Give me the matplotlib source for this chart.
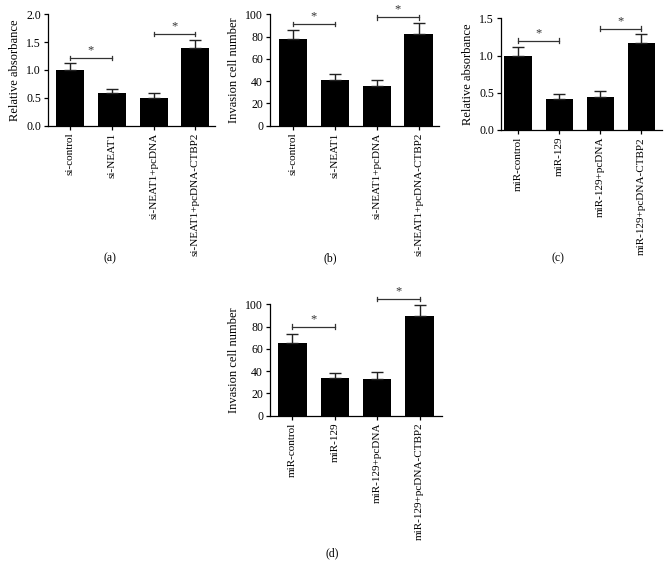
import matplotlib
matplotlib.use("Agg")
import matplotlib.pyplot as plt

plt.rcParams['font.family'] = ['Liberation Serif', 'DejaVu Serif']

# data
labels_si = ['si-control', 'si-NEAT1', 'si-NEAT1+pcDNA', 'si-NEAT1+pcDNA-CTBP2']
labels_mir = ['miR-control', 'miR-129', 'miR-129+pcDNA', 'miR-129+pcDNA-CTBP2']

abs_si = [1.00, 0.58, 0.50, 1.39]
abs_si_err = [0.12, 0.08, 0.08, 0.15]
inv_si = [77.5, 41, 36, 82]
inv_si_err = [8.5, 5, 5, 10]
abs_mir = [1.00, 0.41, 0.44, 1.165]
abs_mir_err = [0.12, 0.07, 0.09, 0.125]
inv_mir = [65, 33.5, 32.5, 89.5]
inv_mir_err = [8.5, 5, 6.5, 10]

# significance brackets: (bar i, bar j, height)
sig_a = [(0, 1, 1.22), (2, 3, 1.65)]
sig_b = [(0, 1, 91.3), (2, 3, 97.3)]
sig_c = [(0, 1, 1.2), (2, 3, 1.36)]
sig_d = [(0, 1, 80), (2, 3, 104.7)]

W, H = 669, 575
fig = plt.figure(figsize=(W / 100, H / 100), dpi=100)


def add_ax(left, right, top, bottom):
    return fig.add_axes([left / W, 1 - bottom / H, (right - left) / W, (bottom - top) / H])


def panel(ax, labels, vals, errs, sigs, ylim, yticks, ylabel, xlim, tickfmt):
    x = range(len(vals))
    ax.bar(x, vals, width=0.67, color='black',
           yerr=[[0] * len(errs), errs], capsize=4.5,
           error_kw=dict(ecolor='#222222', elinewidth=1.0, capthick=1.0))
    ax.set_xlim(*xlim)
    ax.set_ylim(*ylim)
    ax.set_yticks(yticks)
    ax.set_yticklabels([tickfmt.format(t) for t in yticks], fontsize=8.5)
    ax.set_xticks(list(x))
    ax.set_xticklabels(labels, rotation=90, fontsize=8)
    ax.set_ylabel(ylabel, fontsize=9, labelpad=4)
    for s in ['top', 'right']:
        ax.spines[s].set_visible(False)
    for s in ['left', 'bottom']:
        ax.spines[s].set_linewidth(0.9)
    ax.tick_params(length=3, width=0.9, pad=2)
    span = ylim[1] - ylim[0]
    d = span * 0.02
    for i, j, h in sigs:
        ax.plot([i, j], [h, h], color='#333333', lw=0.9, clip_on=False)
        ax.plot([i, i], [h - d, h + d], color='#333333', lw=0.9, clip_on=False)
        ax.plot([j, j], [h - d, h + d], color='#333333', lw=0.9, clip_on=False)
        ax.text((i + j) / 2, h + span * 0.015, '*', ha='center', va='bottom',
                fontsize=9, color='#333333', clip_on=False)


ax_a = add_ax(48, 215, 14.3, 125.7)
panel(ax_a, labels_si, abs_si, abs_si_err, sig_a, (0, 2.0), [0, 0.5, 1.0, 1.5, 2.0],
      'Relative absorbance', (-0.53, 3.47), '{:.1f}')

ax_b = add_ax(270, 439, 14.3, 125.7)
panel(ax_b, labels_si, inv_si, inv_si_err, sig_b, (0, 100), [0, 20, 40, 60, 80, 100],
      'Invasion cell number', (-0.55, 3.49), '{:.0f}')

ax_c = add_ax(501, 662, 18.3, 130)
panel(ax_c, labels_mir, abs_mir, abs_mir_err, sig_c, (0, 1.5), [0, 0.5, 1.0, 1.5],
      'Relative absorbance', (-0.42, 3.5), '{:.1f}')

ax_d = add_ax(270, 442, 304.3, 415.7)
panel(ax_d, labels_mir, inv_mir, inv_mir_err, sig_d, (0, 100), [0, 20, 40, 60, 80, 100],
      'Invasion cell number', (-0.53, 3.53), '{:.0f}')

for txt, cx, cy in [('(a)', 110, 258), ('(b)', 330, 258), ('(c)', 558, 258), ('(d)', 332, 553)]:
    fig.text(cx / W, 1 - cy / H, txt, ha='center', va='center', fontsize=8.5)

fig.savefig('out.png', dpi=100)
